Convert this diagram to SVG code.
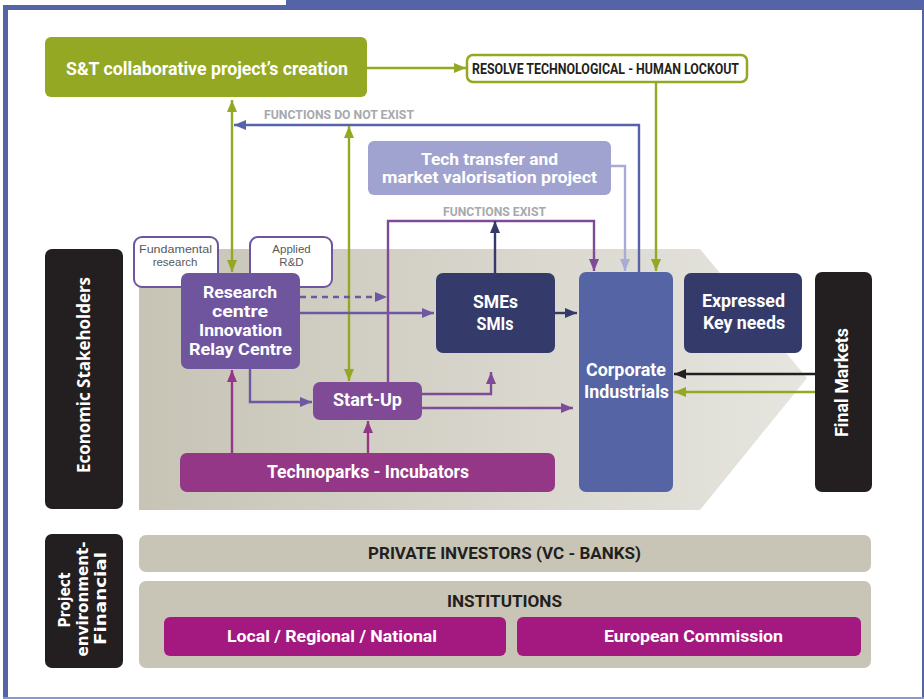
<svg xmlns="http://www.w3.org/2000/svg" width="924" height="699" viewBox="0 0 924 699">
<defs>
<style>
.t{font-family:Roboto,"Liberation Sans",Arial,sans-serif;font-weight:700;fill:#fff;text-anchor:middle}
.d{fill:#231f20}
.g{fill:#a7a9ac}
.s{font-family:"Liberation Sans",Arial,sans-serif;font-weight:400;fill:#58595b;text-anchor:middle;font-size:11.5px}
.c{fill:none;stroke-width:2.4}
</style>
<linearGradient id="bg" x1="0" y1="0" x2="1" y2="0">
<stop offset="0" stop-color="#c7c4b6"/>
<stop offset="1" stop-color="#e6e5df"/>
</linearGradient>
<marker id="mG" viewBox="0 0 12 10" refX="12" refY="5" markerWidth="12" markerHeight="10" markerUnits="userSpaceOnUse" orient="auto-start-reverse"><path d="M0,0L12,5L0,10z" fill="#95a823"/></marker>
<marker id="mB" viewBox="0 0 12 10" refX="12" refY="5" markerWidth="12" markerHeight="10" markerUnits="userSpaceOnUse" orient="auto"><path d="M0,0L12,5L0,10z" fill="#5564a6"/></marker>
<marker id="mL" viewBox="0 0 12 10" refX="12" refY="5" markerWidth="12" markerHeight="10" markerUnits="userSpaceOnUse" orient="auto"><path d="M0,0L12,5L0,10z" fill="#a7abd6"/></marker>
<marker id="mP" viewBox="0 0 12 10" refX="12" refY="5" markerWidth="12" markerHeight="10" markerUnits="userSpaceOnUse" orient="auto"><path d="M0,0L12,5L0,10z" fill="#7f4b97"/></marker>
<marker id="mR" viewBox="0 0 12 10" refX="12" refY="5" markerWidth="12" markerHeight="10" markerUnits="userSpaceOnUse" orient="auto"><path d="M0,0L12,5L0,10z" fill="#6e58a2"/></marker>
<marker id="mM" viewBox="0 0 12 10" refX="12" refY="5" markerWidth="12" markerHeight="10" markerUnits="userSpaceOnUse" orient="auto"><path d="M0,0L12,5L0,10z" fill="#943786"/></marker>
<marker id="mN" viewBox="0 0 12 10" refX="12" refY="5" markerWidth="12" markerHeight="10" markerUnits="userSpaceOnUse" orient="auto"><path d="M0,0L12,5L0,10z" fill="#343b6b"/></marker>
<marker id="mK" viewBox="0 0 12 10" refX="12" refY="5" markerWidth="12" markerHeight="10" markerUnits="userSpaceOnUse" orient="auto"><path d="M0,0L12,5L0,10z" fill="#231f20"/></marker>
</defs>

<g id="frame">
<rect x="0" y="0" width="924" height="699" fill="#fff"/>
<rect x="286" y="0" width="638" height="10" fill="#5564a6"/>
<rect x="3" y="5" width="921" height="5" fill="#5564a6"/>
<rect x="3" y="5" width="5" height="694" fill="#5564a6"/>
<rect x="922" y="5" width="2" height="694" fill="#5564a6"/>
<rect x="3" y="697" width="921" height="2" fill="#8a96cc"/>
</g>

<g id="background">
<polygon points="139,249 700,249 807,378 700,510 139,510" fill="url(#bg)"/>
</g>

<g id="economic-stakeholders">
<rect x="45" y="249" width="78" height="260" rx="7" fill="#231f20"/>
<text transform="translate(90,375) rotate(-90)" style="font-family:'Open Sans','DejaVu Sans',sans-serif;font-weight:700;fill:#fff;text-anchor:middle;font-size:17px" textLength="196" lengthAdjust="spacingAndGlyphs">Economic Stakeholders</text>
</g>

<g id="fundamental-research">
<rect x="134" y="237" width="84" height="50" rx="8" fill="#fff" stroke="#6e559e" stroke-width="2"/>
<text class="s" x="175.5" y="253" textLength="73" lengthAdjust="spacingAndGlyphs">Fundamental</text>
<text class="s" x="175" y="265.5">research</text>
</g>

<g id="applied-rd">
<rect x="250" y="237" width="82" height="50" rx="8" fill="#fff" stroke="#6e559e" stroke-width="2"/>
<text class="s" x="291.5" y="253">Applied</text>
<text class="s" x="291.5" y="265.5">R&amp;D</text>
</g>

<g id="connectors">
<line class="c" x1="367" y1="68" x2="466" y2="68" stroke="#95a823" marker-end="url(#mG)"/>
<line class="c" x1="656" y1="82" x2="656" y2="271" stroke="#95a823" marker-end="url(#mG)"/>
<path class="c" d="M639,272V125H234" stroke="#5564a6" marker-end="url(#mB)"/>
<path class="c" d="M611,166H625V271" stroke="#a7abd6" marker-end="url(#mL)"/>
<path class="c" d="M388,382V221H594V271" stroke="#7f4b97" marker-end="url(#mP)"/>
<line class="c" x1="495" y1="273" x2="495" y2="221" stroke="#343b6b" marker-end="url(#mN)"/>
<line class="c" x1="232" y1="100" x2="232" y2="272" stroke="#95a823" marker-start="url(#mG)" marker-end="url(#mG)"/>
<line class="c" x1="349" y1="126" x2="349" y2="381" stroke="#95a823" marker-start="url(#mG)" marker-end="url(#mG)"/>
<line class="c" x1="300" y1="297" x2="387" y2="297" stroke="#6e58a2" stroke-dasharray="6,5" marker-end="url(#mR)"/>
<line class="c" x1="300" y1="313" x2="434" y2="313" stroke="#6e58a2" marker-end="url(#mR)"/>
<path class="c" d="M250,369V402H312" stroke="#6e58a2" marker-end="url(#mR)"/>
<path class="c" d="M421,394H491V372" stroke="#7f4b97" marker-end="url(#mP)"/>
<line class="c" x1="421" y1="408" x2="573" y2="408" stroke="#7f4b97" marker-end="url(#mP)"/>
<line class="c" x1="232" y1="453" x2="232" y2="370" stroke="#943786" marker-end="url(#mM)"/>
<line class="c" x1="368" y1="453" x2="368" y2="421" stroke="#943786" marker-end="url(#mM)"/>
<line class="c" x1="555" y1="313" x2="577" y2="313" stroke="#343b6b" marker-end="url(#mN)"/>
<line class="c" x1="815" y1="374" x2="674" y2="374" stroke="#231f20" marker-end="url(#mK)"/>
<line class="c" x1="815" y1="392" x2="674" y2="392" stroke="#95a823" marker-end="url(#mG)"/>
<text class="t g" x="339" y="119" style="font-size:13.5px" textLength="150" lengthAdjust="spacingAndGlyphs">FUNCTIONS DO NOT EXIST</text>
<text class="t g" x="494.5" y="216" style="font-size:13px" textLength="103" lengthAdjust="spacingAndGlyphs">FUNCTIONS EXIST</text>
</g>

<g id="st-project">
<rect x="45" y="37" width="322" height="60" rx="6" fill="#95a823"/>
<text class="t" x="207" y="74.5" style="font-size:18px" textLength="282" lengthAdjust="spacingAndGlyphs">S&amp;T collaborative project’s creation</text>
</g>

<g id="resolve-lockout">
<rect x="467" y="55" width="280" height="27" rx="6" fill="#fff" stroke="#95a823" stroke-width="2.5"/>
<text class="t d" x="605.5" y="74" style="font-size:14px" textLength="267" lengthAdjust="spacingAndGlyphs">RESOLVE TECHNOLOGICAL - HUMAN LOCKOUT</text>
</g>

<g id="tech-transfer">
<rect x="368" y="141" width="243" height="54" rx="6" fill="#a0a2cf"/>
<text class="t" x="489.5" y="164.5" style="font-size:16px" textLength="137" lengthAdjust="spacingAndGlyphs">Tech transfer and</text>
<text class="t" x="489.5" y="183" style="font-size:16px" textLength="215" lengthAdjust="spacingAndGlyphs">market valorisation project</text>
</g>

<g id="research-centre">
<rect x="181" y="273" width="119" height="96" rx="7" fill="#6e559e"/>
<text class="t" x="240" y="298.3" style="font-size:16.5px" textLength="74" lengthAdjust="spacingAndGlyphs">Research</text>
<text class="t" x="240" y="317.3" style="font-size:16.5px" textLength="56" lengthAdjust="spacingAndGlyphs">centre</text>
<text class="t" x="240.5" y="336" style="font-size:16.5px" textLength="83" lengthAdjust="spacingAndGlyphs">Innovation</text>
<text class="t" x="240.5" y="354.5" style="font-size:16.5px" textLength="103" lengthAdjust="spacingAndGlyphs">Relay Centre</text>
</g>

<g id="start-up">
<rect x="313" y="382" width="109" height="38" rx="7" fill="#7f4b97"/>
<text class="t" x="367.5" y="405.5" style="font-size:18px" textLength="69" lengthAdjust="spacingAndGlyphs">Start-Up</text>
</g>

<g id="technoparks">
<rect x="180" y="453" width="375" height="39" rx="7" fill="#943786"/>
<text class="t" x="368" y="477.5" style="font-size:18px" textLength="202" lengthAdjust="spacingAndGlyphs">Technoparks - Incubators</text>
</g>

<g id="smes">
<rect x="436" y="273" width="119" height="80" rx="7" fill="#343b6b"/>
<text class="t" x="495.5" y="307.7" style="font-size:18px" textLength="45" lengthAdjust="spacingAndGlyphs">SMEs</text>
<text class="t" x="495" y="329.5" style="font-size:18px" textLength="37" lengthAdjust="spacingAndGlyphs">SMIs</text>
</g>

<g id="corporate">
<rect x="579" y="272" width="94" height="220" rx="7" fill="#5564a5"/>
<text class="t" x="626" y="375.7" style="font-size:18px" textLength="80" lengthAdjust="spacingAndGlyphs">Corporate</text>
<text class="t" x="626.5" y="397.7" style="font-size:18px" textLength="85" lengthAdjust="spacingAndGlyphs">Industrials</text>
</g>

<g id="expressed-needs">
<rect x="684" y="273" width="118" height="80" rx="7" fill="#343b6b"/>
<text class="t" x="743.5" y="307.3" style="font-size:18px" textLength="83" lengthAdjust="spacingAndGlyphs">Expressed</text>
<text class="t" x="744" y="329" style="font-size:18px" textLength="82" lengthAdjust="spacingAndGlyphs">Key needs</text>
</g>

<g id="final-markets">
<rect x="815" y="272" width="57" height="220" rx="7" fill="#231f20"/>
<text class="t" transform="translate(847.5,382.5) rotate(-90)" style="font-size:18px" textLength="109" lengthAdjust="spacingAndGlyphs">Final Markets</text>
</g>

<g id="project-environment">
<rect x="45" y="534" width="78" height="134" rx="7" fill="#231f20"/>
<text transform="translate(70,600) rotate(-90)" style="font-family:'DejaVu Sans',Verdana,sans-serif;font-weight:700;fill:#fff;text-anchor:middle;font-size:15px" textLength="55" lengthAdjust="spacingAndGlyphs">Project</text>
<text transform="translate(88,599) rotate(-90)" style="font-family:'DejaVu Sans',Verdana,sans-serif;font-weight:700;fill:#fff;text-anchor:middle;font-size:15px" textLength="115" lengthAdjust="spacingAndGlyphs">environment-</text>
<text transform="translate(106,598.5) rotate(-90)" style="font-family:'DejaVu Sans',Verdana,sans-serif;font-weight:700;fill:#fff;text-anchor:middle;font-size:15px" textLength="93" lengthAdjust="spacingAndGlyphs">Financial</text>
</g>

<g id="private-investors">
<rect x="139" y="535" width="732" height="37" rx="7" fill="#c8c5b6"/>
<text class="t d" x="504.5" y="559.3" style="font-size:17px" textLength="273" lengthAdjust="spacingAndGlyphs">PRIVATE INVESTORS (VC - BANKS)</text>
</g>

<g id="institutions">
<rect x="139" y="581" width="732" height="87" rx="7" fill="#c8c5b6"/>
<text class="t d" x="504.5" y="607.3" style="font-size:17px" textLength="115" lengthAdjust="spacingAndGlyphs">INSTITUTIONS</text>
</g>

<g id="local-regional-national">
<rect x="164" y="617" width="342" height="39" rx="6" fill="#a3197f"/>
<text class="t" x="332" y="641.7" style="font-size:17px" textLength="210" lengthAdjust="spacingAndGlyphs">Local / Regional / National</text>
</g>

<g id="european-commission">
<rect x="517" y="617" width="344" height="39" rx="6" fill="#a3197f"/>
<text class="t" x="693.5" y="641.7" style="font-size:17px" textLength="179" lengthAdjust="spacingAndGlyphs">European Commission</text>
</g>
</svg>
